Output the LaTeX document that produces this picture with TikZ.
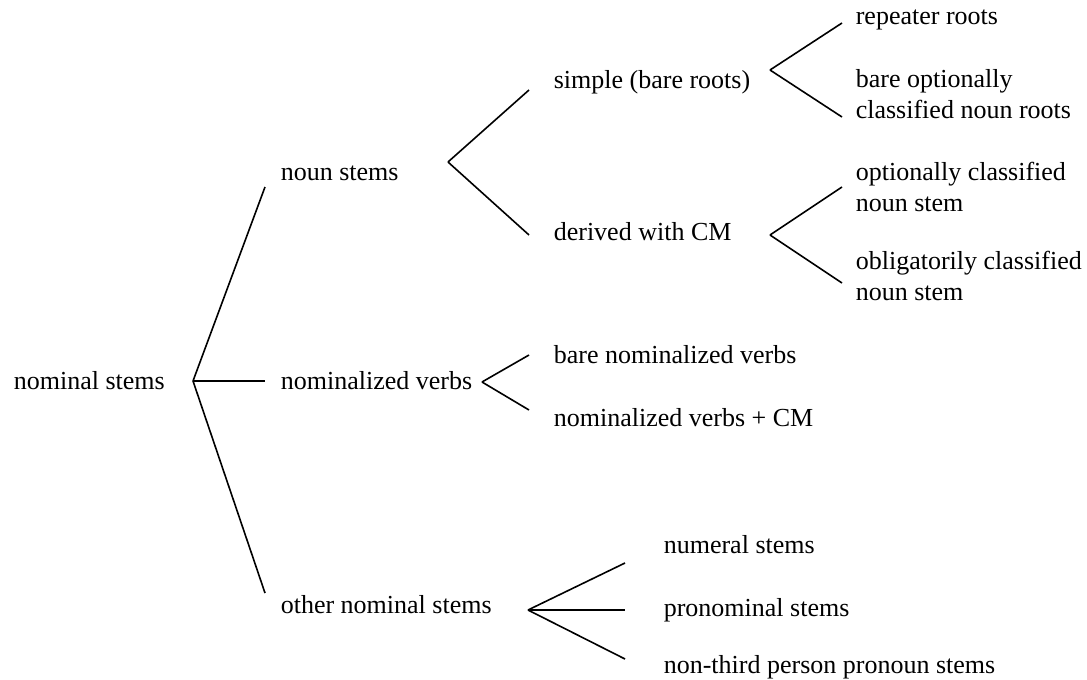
\documentclass[tikz,border=0pt]{standalone}
\usepackage{fontspec}
\setmainfont{Liberation Serif}
\begin{document}
\begin{tikzpicture}[x=0.5pt,y=-0.5pt,line width=0.8pt,
    lbl/.style={anchor=base west,inner sep=0pt,align=left,
      font=\fontsize{13}{15.5}\selectfont}]
      \useasboundingbox (0,0) rectangle (1087,680);
      \path
        (193,381) coordinate (r)
        (265,187) coordinate (r1)
        (265,381) coordinate (r2)
        (265,593) coordinate (r3)
        (448,162) coordinate (n)
        (529,90) coordinate (n1)
        (529,235) coordinate (n2)
        (770,70) coordinate (s)
        (842,23) coordinate (s1)
        (842,117) coordinate (s2)
        (770,235) coordinate (d)
        (842,187) coordinate (d1)
        (842,283) coordinate (d2)
        (482,382) coordinate (v)
        (529,355) coordinate (v1)
        (529,410) coordinate (v2)
        (528,610) coordinate (o)
        (625,563) coordinate (o1)
        (625,610) coordinate (o2)
        (625,659) coordinate (o3);
      \path
        (13,389) node[lbl] (nom){nominal stems}
        (280,180) node[lbl] (noun){noun stems}
        (280,389) node[lbl] (verb){nominalized verbs}
        (280,613) node[lbl] (other){other nominal stems}
        (553,88) node[lbl] (simple){simple (bare roots)}
        (553,240) node[lbl] (derived){derived with CM}
        (855,25) node[lbl] (rep){repeater roots}
        (855,118) node[lbl] (bare){bare optionally\\classified noun roots}
        (855,211) node[lbl] (opt){optionally classified\\noun stem}
        (855,300) node[lbl] (obl){obligatorily classified\\noun stem}
        (553,363) node[lbl] (barev){bare nominalized verbs}
        (553,426) node[lbl] (cmv){nominalized verbs + CM}
        (663,553) node[lbl] (num){numeral stems}
        (663,616) node[lbl] (pron){pronominal stems}
        (663,673) node[lbl] (third){non-third person pronoun stems};
      \begin{scope}[-]
        \draw (r) to (r1);
        \draw (r) to (r2);
        \draw (r) to (r3);
        \draw (n) to (n1);
        \draw (n) to (n2);
        \draw (s) to (s1);
        \draw (s) to (s2);
        \draw (d) to (d1);
        \draw (d) to (d2);
        \draw (v) to (v1);
        \draw (v) to (v2);
        \draw (o) to (o1);
        \draw (o) to (o2);
        \draw (o) to (o3);
      \end{scope}
    \end{tikzpicture}
\end{document}
